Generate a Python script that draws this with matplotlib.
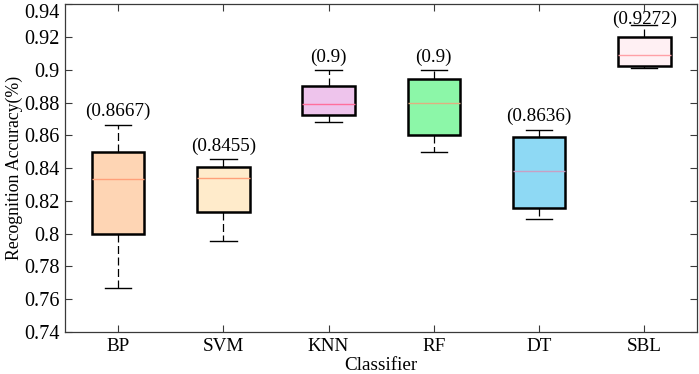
import matplotlib

matplotlib.use("Agg")
import matplotlib.pyplot as plt
from matplotlib.ticker import FuncFormatter

# values
classifiers = ["BP", "SVM", "KNN", "RF", "DT", "SBL"]
whisker_low = [0.7667, 0.7957, 0.8682, 0.8500, 0.8089, 0.9011]
q1 = [0.8000, 0.8135, 0.8727, 0.8600, 0.8158, 0.9026]
median = [0.8333, 0.8340, 0.8792, 0.8800, 0.8383, 0.9089]
q3 = [0.8500, 0.8408, 0.8904, 0.8947, 0.8589, 0.9201]
whisker_high = [0.8667, 0.8455, 0.9000, 0.9000, 0.8636, 0.9272]
best_labels = ["(0.8667)", "(0.8455)", "(0.9)", "(0.9)", "(0.8636)", "(0.9272)"]
y_ticks = [0.74, 0.76, 0.78, 0.80, 0.82, 0.84, 0.86, 0.88, 0.90, 0.92, 0.94]

fill_colors = ["#FED5B4", "#FFEBCB", "#EEC4EC", "#8CF7A8", "#8ED9F4", "#FFF0F3"]
median_colors = ["#FFA07A", "#FFA07A", "#FF6F9C", "#E0B080", "#C8A0C4", "#FFA0A6"]

plt.rcParams.update(
    {
        "font.family": ["Liberation Serif", "DejaVu Serif"],
        "font.size": 13.8,
        "axes.edgecolor": "#3a3a3a",
        "axes.linewidth": 0.9,
        "xtick.color": "#3a3a3a",
        "ytick.color": "#3a3a3a",
        "xtick.labelcolor": "black",
        "ytick.labelcolor": "black",
    }
)

fig = plt.figure(figsize=(6.99, 3.74), dpi=100)
ax = fig.add_axes([0.0937, 0.1123, 0.9033, 0.8757])

stats = []
for name, lo, a, m, b, hi in zip(classifiers, whisker_low, q1, median, q3, whisker_high):
    stats.append({"label": name, "whislo": lo, "q1": a, "med": m, "q3": b, "whishi": hi, "fliers": []})

positions = list(range(1, len(classifiers) + 1))
bp = ax.bxp(
    stats,
    positions=positions,
    widths=0.5,
    patch_artist=True,
    showfliers=False,
    boxprops={"linewidth": 1.8, "edgecolor": "black"},
    whiskerprops={"linewidth": 0.9, "color": "black", "linestyle": (0, (6.4, 2.8))},
    capprops={"linewidth": 1.0, "color": "black"},
    medianprops={"linewidth": 1.0},
    capwidths=0.25,
)
for patch, fc in zip(bp["boxes"], fill_colors):
    patch.set_facecolor(fc)
for line, mc in zip(bp["medians"], median_colors):
    line.set_color(mc)

for i, (pos, hi, lab) in enumerate(zip(positions, whisker_high, best_labels)):
    offset = 0.0036 if i == len(positions) - 1 else 0.0078
    ax.text(pos, hi + offset, lab, ha="center", va="center")

ax.set_xlim(0.5, 6.5)
ax.set_ylim(0.74, 0.94)
ax.set_yticks(y_ticks)
ax.yaxis.set_major_formatter(FuncFormatter(lambda v, _: f"{v:g}"))
ax.set_xticks(positions)
ax.set_xticklabels(classifiers)
ax.tick_params(axis="both", direction="in", length=5, width=0.8, top=True, right=True)
ax.tick_params(axis="x", pad=4)
ax.tick_params(axis="y", pad=4, labelsize=14.6)
# keep the topmost tick label inside the figure
ax.get_yticklabels()[-1].set_verticalalignment("top")

ax.set_xlabel("Classifier", labelpad=2)
ax.set_ylabel("Recognition Accuracy(%)", fontsize=12.8, labelpad=1)

fig.savefig("out.png", dpi=100)
